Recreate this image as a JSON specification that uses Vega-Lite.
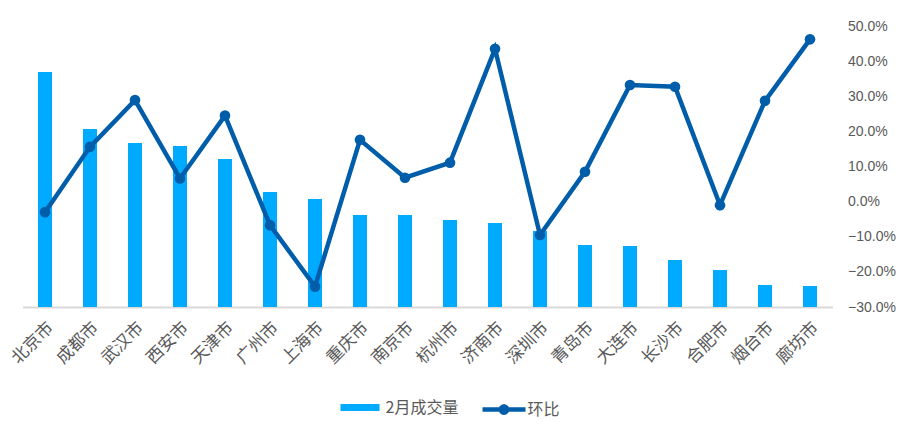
{
  "$schema": "https://vega.github.io/schema/vega-lite/v6.json",
  "width": 810,
  "height": 281,
  "autosize": "none",
  "padding": {"left": 22.5, "top": 26, "right": 74.5, "bottom": 119},
  "background": "white",
  "config": {
    "view": {"stroke": null},
    "font": "Noto Sans CJK SC",
    "legend": {"labelFont": "Noto Sans CJK SC", "labelFontSize": 16, "labelColor": "#595959"}
  },
  "data": {
    "values": [
      {"city": "北京市", "volume": 235, "mom": -0.030},
      {"city": "成都市", "volume": 178, "mom": 0.156},
      {"city": "武汉市", "volume": 164, "mom": 0.289},
      {"city": "西安市", "volume": 161, "mom": 0.066},
      {"city": "天津市", "volume": 148, "mom": 0.245},
      {"city": "广州市", "volume": 115, "mom": -0.067},
      {"city": "上海市", "volume": 108, "mom": -0.242},
      {"city": "重庆市", "volume": 92, "mom": 0.176},
      {"city": "南京市", "volume": 92, "mom": 0.068},
      {"city": "杭州市", "volume": 87, "mom": 0.111},
      {"city": "济南市", "volume": 84, "mom": 0.435},
      {"city": "深圳市", "volume": 76, "mom": -0.095},
      {"city": "青岛市", "volume": 62, "mom": 0.085},
      {"city": "大连市", "volume": 61, "mom": 0.332},
      {"city": "长沙市", "volume": 47, "mom": 0.327},
      {"city": "合肥市", "volume": 37, "mom": -0.010},
      {"city": "烟台市", "volume": 22, "mom": 0.287},
      {"city": "廊坊市", "volume": 21, "mom": 0.462}
    ]
  },
  "encoding": {
    "x": {
      "field": "city",
      "type": "nominal",
      "sort": null,
      "scale": {"paddingInner": 0, "paddingOuter": 0},
      "axis": {
        "title": null,
        "labelAngle": -45,
        "labelFont": "Noto Sans CJK SC",
        "labelFontSize": 17,
        "labelColor": "#595959",
        "labelPadding": 12,
        "ticks": false,
        "domainColor": "#D9D9D9",
        "domainWidth": 2
      }
    }
  },
  "layer": [
    {
      "mark": {"type": "bar", "width": {"band": 0.311}},
      "encoding": {
        "y": {"field": "volume", "type": "quantitative", "scale": {"domain": [0, 281], "nice": false}, "axis": null},
        "color": {
          "datum": "2月成交量",
          "scale": {"range": ["#00AAFF"]},
          "legend": {
            "title": null,
            "orient": "none",
            "legendX": 318,
            "legendY": 362,
            "symbolType": "M-1,-0.18H1V0.18H-1Z",
            "symbolSize": 1521,
            "symbolStrokeWidth": 0,
            "labelOffset": 6
          }
        }
      }
    },
    {
      "mark": {"type": "line", "strokeWidth": 4.5, "point": {"filled": true, "size": 113}},
      "encoding": {
        "y": {
          "field": "mom",
          "type": "quantitative",
          "scale": {"domain": [-0.3, 0.5], "nice": false},
          "axis": {
            "orient": "right",
            "title": null,
            "format": ".1%",
            "values": [-0.3, -0.2, -0.1, 0, 0.1, 0.2, 0.3, 0.4, 0.5],
            "ticks": false,
            "domain": false,
            "grid": false,
            "labelFont": "Liberation Sans",
            "labelFontSize": 14,
            "labelColor": "#595959",
            "labelPadding": 15
          }
        },
        "color": {
          "datum": "环比",
          "scale": {"range": ["#005DAA"]},
          "legend": {
            "title": null,
            "orient": "none",
            "legendX": 460,
            "legendY": 362,
            "symbolType": "M-1,-0.1H1V0.1H-1Z M0.25,0 A0.25,0.25 0 1,1 -0.25,0 A0.25,0.25 0 1,1 0.25,0Z",
            "symbolSize": 1849,
            "labelOffset": 2,
            "encode": {"symbols": {"update": {"fill": {"value": "#005DAA"}, "strokeWidth": {"value": 0}}}}
          }
        }
      }
    }
  ],
  "resolve": {"scale": {"y": "independent", "color": "independent"}}
}
